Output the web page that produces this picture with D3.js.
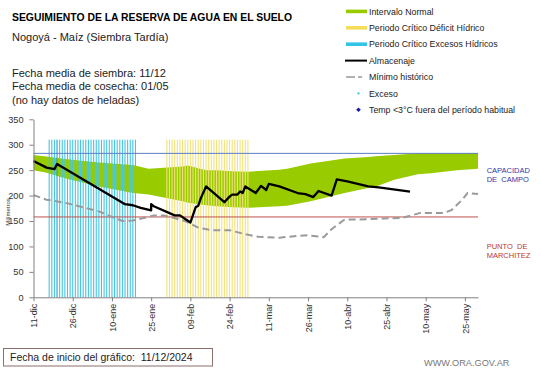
<!DOCTYPE html>
<html>
<head>
<meta charset="utf-8">
<script src="https://cdn.jsdelivr.net/npm/d3@7"></script>
<style>
  body { margin: 0; background: #fff; }
  svg { display: block; font-family: 'Liberation Sans', Arial, sans-serif; }
</style>
</head>
<body>
<div id="grafico"></div>
<script>
///////////////////////////////////////////////////////////////////////////
// Datos (dias contados desde la fecha de inicio del grafico)
///////////////////////////////////////////////////////////////////////////
const inicio = new Date(2024, 11, 11);
const diasEje = 170;

// Intervalo normal (banda verde)
const bandaDias = [0, 5, 12.7, 25.4, 38, 44.5, 57.1, 59.8, 66.1, 70, 76.2, 82.7, 94.1, 97.9, 106.6, 119.6, 128.4, 132.3, 138.8, 147.6, 152.5, 162.9, 170];
const bandaSup  = [280, 277, 272, 265, 260, 253, 257, 259, 250, 250, 248, 247, 251, 253, 263, 273, 276, 278, 280, 283, 283, 283, 283];
const bandaInf  = [250, 245, 234, 218, 205, 202, 189, 186, 181, 179, 177, 176, 179, 180, 189, 205, 215, 220, 231, 242, 244, 250, 253];

// Almacenaje
const almDias = [0, 5.5, 8.2, 9.9, 35.6, 38.1, 41.9, 45.1, 45.7, 46.4, 54.7, 56.6, 60.8, 62.3, 63.6, 64.8, 66.7, 73.8, 75.7, 76.9, 78.2, 79.1, 80.1, 81.4, 85.8, 87.7, 89.7, 90.9, 94.8, 101.8, 104.3, 107.9, 109.1, 114.7, 116.8, 120.8, 128.4, 132.3, 144];
const almMm   = [268, 255, 252, 262, 183, 181, 176, 171, 183, 179, 161, 161, 147, 177, 180, 195, 218, 187, 198, 202, 202, 208, 205, 218, 205, 219, 211, 223, 218, 205, 203, 197, 209, 200, 232, 228, 218, 216, 208];

// Minimo historico
const minDias = [0, 5.5, 12.7, 25.4, 30.5, 34.9, 38.1, 43.2, 46.4, 50.9, 58.5, 63.6, 68.7, 75, 81.4, 86.5, 94.1, 101.8, 105.6, 111.3, 114.5, 119.6, 124.7, 134.9, 141.2, 148.8, 157.8, 160.3, 164.1, 166.7, 170];
const minMm   = [201, 192, 186, 169, 158, 150, 151, 157, 161, 161, 150, 137, 132, 132, 124, 119, 117, 121, 122, 118, 134, 153, 153, 155, 156, 166, 166, 172, 192, 205, 203];

// Periodos criticos (barras diarias)
const periodoExcesos = [new Date(2024, 11, 17), new Date(2025, 0, 19)];
const periodoDeficit = [new Date(2025, 0, 31), new Date(2025, 2, 3)];
const diaExcesoMarcado = new Date(2024, 11, 20);
const alturaPeriodo = 310;

const capacidadCampo = 283;
const puntoMarchitez = 158;

const yTicks = [0, 50, 100, 150, 200, 250, 300, 350];
const pasoTicksX = 15;
const mesesCortos = ["ene", "feb", "mar", "abr", "may", "jun", "jul", "ago", "sep", "oct", "nov", "dic"];

const leyenda = [
  { texto: "Intervalo Normal", tipo: "barra", color: "#99cc00" },
  { texto: "Periodo Crítico Déficit Hídrico", tipo: "barra", color: "#f5dc5a" },
  { texto: "Periodo Crítico Excesos Hídricos", tipo: "barra", color: "#33c3e6" },
  { texto: "Almacenaje", tipo: "linea", color: "#000" },
  { texto: "Mínimo histórico", tipo: "guion", color: "#999" },
  { texto: "Exceso", tipo: "punto", color: "#33c3e6" },
  { texto: "Temp <3°C fuera del período habitual", tipo: "rombo", color: "#1a1aa0" }
];

///////////////////////////////////////////////////////////////////////////
// SVG
///////////////////////////////////////////////////////////////////////////
const width = 541, height = 368;
const svg = d3.select("#grafico").append("svg")
  .attr("width", width)
  .attr("height", height);

const fecha = d => d3.timeDay.offset(inicio, d);

const x = d3.scaleTime()
  .domain([inicio, fecha(diasEje)])
  .range([33.5, 478]);
const y = d3.scaleLinear()
  .domain([0, 350])
  .range([297.3, 119.3]);

// Banda verde
const banda = bandaDias.map((d, i) => ({ dia: d, sup: bandaSup[i], inf: bandaInf[i] }));
svg.append("path")
  .datum(banda)
  .attr("fill", "#99cc00")
  .attr("d", d3.area()
    .x(d => x(fecha(d.dia)))
    .y0(d => y(d.inf))
    .y1(d => y(d.sup)));

// Barras diarias de los periodos criticos
function barras(rango, color) {
  const dias = d3.timeDay.range(rango[0], d3.timeDay.offset(rango[1], 1));
  svg.append("g").selectAll("rect")
    .data(dias)
    .join("rect")
    .attr("x", d => x(d) - 0.55)
    .attr("width", 1.1)
    .attr("y", y(alturaPeriodo))
    .attr("height", y(0) - y(alturaPeriodo))
    .attr("fill", d => +d === +diaExcesoMarcado ? "#1fa3cf" : color);
}
barras(periodoExcesos, "#45c6e2");
barras(periodoDeficit, "#f3e27c");

// Lineas de referencia
svg.append("line")
  .attr("x1", x.range()[0]).attr("x2", x.range()[1])
  .attr("y1", y(capacidadCampo)).attr("y2", y(capacidadCampo))
  .attr("stroke", "#5b7ec6").attr("stroke-width", 1);
svg.append("line")
  .attr("x1", x.range()[0]).attr("x2", x.range()[1])
  .attr("y1", y(puntoMarchitez)).attr("y2", y(puntoMarchitez))
  .attr("stroke", "#c0504d").attr("stroke-width", 1);

// Minimo historico
svg.append("path")
  .datum(minDias.map((d, i) => [d, minMm[i]]))
  .attr("fill", "none")
  .attr("stroke", "#9a9a9a")
  .attr("stroke-width", 2)
  .attr("stroke-dasharray", "7,4")
  .attr("d", d3.line().x(d => x(fecha(d[0]))).y(d => y(d[1])));

// Almacenaje
svg.append("path")
  .datum(almDias.map((d, i) => [d, almMm[i]]))
  .attr("fill", "none")
  .attr("stroke", "#000")
  .attr("stroke-width", 2.3)
  .attr("stroke-linejoin", "round")
  .attr("d", d3.line().x(d => x(fecha(d[0]))).y(d => y(d[1])));

///////////////////////////////////////////////////////////////////////////
// Ejes
///////////////////////////////////////////////////////////////////////////
const es = d3.timeFormatLocale({
  dateTime: "%x, %X", date: "%d/%m/%Y", time: "%H:%M:%S", periods: ["AM", "PM"],
  days: ["domingo", "lunes", "martes", "miércoles", "jueves", "viernes", "sábado"],
  shortDays: ["dom", "lun", "mar", "mié", "jue", "vie", "sáb"],
  months: mesesCortos, shortMonths: mesesCortos
});
const fmt = es.format("%d-%b");
const xTicks = d3.range(0, diasEje, pasoTicksX).map(fecha);

const ejeY = svg.append("g")
  .attr("transform", `translate(${x.range()[0]},0)`)
  .call(d3.axisLeft(y).tickValues(yTicks).tickSize(4).tickSizeOuter(0).tickPadding(6));
ejeY.selectAll("text").attr("font-size", "9.2px").attr("fill", "#333").attr("font-family", null);
ejeY.selectAll("line, path").attr("stroke", "#808080");

const ejeX = svg.append("g")
  .attr("transform", `translate(0,${y(0)})`)
  .call(d3.axisBottom(x).tickValues(xTicks).tickFormat(fmt).tickSize(4).tickSizeOuter(0));
ejeX.selectAll("line, path").attr("stroke", "#808080");
ejeX.selectAll("text")
  .attr("transform", "rotate(-90)")
  .attr("x", -6.5)
  .attr("y", 0)
  .attr("dy", "0.35em")
  .attr("font-size", "9px")
  .attr("font-family", null)
  .attr("fill", "#333")
  .style("text-anchor", "end");

svg.append("text")
  .attr("transform", "translate(9.5,212) rotate(-90)")
  .attr("text-anchor", "middle")
  .attr("font-size", "6px")
  .attr("fill", "#333")
  .text("Milímetros");

// Etiquetas a la derecha
const etiquetasDer = [
  { lineas: ["CAPACIDAD", "DE  CAMPO"], y: 173.3, color: "#3434a8" },
  { lineas: ["PUNTO  DE", "MARCHITEZ"], y: 249.3, color: "#c0392b" }
];
etiquetasDer.forEach(e => {
  e.lineas.forEach((l, i) => {
    svg.append("text")
      .attr("x", 486.7)
      .attr("y", e.y + i * 8.4)
      .attr("font-size", "7.5px")
      .attr("fill", e.color)
      .style("white-space", "pre")
      .text(l);
  });
});

///////////////////////////////////////////////////////////////////////////
// Titulos
///////////////////////////////////////////////////////////////////////////
svg.append("text")
  .attr("x", 12).attr("y", 20.7)
  .attr("font-size", "10.4px").attr("font-weight", "bold").attr("fill", "#000")
  .text("SEGUIMIENTO DE LA RESERVA DE AGUA EN EL SUELO");

svg.append("text")
  .attr("x", 12).attr("y", 40.7)
  .attr("font-size", "11px").attr("fill", "#222")
  .text("Nogoyá - Maíz (Siembra Tardía)");

["Fecha media de siembra: 11/12", "Fecha media de cosecha: 01/05", "(no hay datos de heladas)"]
  .forEach((t, i) => {
    svg.append("text")
      .attr("x", 12).attr("y", 76.6 + i * 13.7)
      .attr("font-size", "11px").attr("fill", "#222")
      .text(t);
  });

///////////////////////////////////////////////////////////////////////////
// Leyenda
///////////////////////////////////////////////////////////////////////////
leyenda.forEach((l, i) => {
  const cy = 11.4 + i * 16.4;
  const g = svg.append("g");
  if (l.tipo === "barra") {
    g.append("rect").attr("x", 346).attr("y", cy - 1.8).attr("width", 21).attr("height", 3.6).attr("fill", l.color);
  } else if (l.tipo === "linea") {
    g.append("line").attr("x1", 345).attr("x2", 367).attr("y1", cy).attr("y2", cy)
      .attr("stroke", l.color).attr("stroke-width", 2);
  } else if (l.tipo === "guion") {
    g.append("line").attr("x1", 346).attr("x2", 362).attr("y1", cy).attr("y2", cy)
      .attr("stroke", l.color).attr("stroke-width", 1.6).attr("stroke-dasharray", "9,3");
  } else if (l.tipo === "punto") {
    g.append("rect").attr("x", 357.5).attr("y", cy - 1).attr("width", 2).attr("height", 2).attr("fill", l.color);
  } else if (l.tipo === "rombo") {
    g.append("path").attr("d", `M358.5,${cy - 2.3}L360.8,${cy}L358.5,${cy + 2.3}L356.2,${cy}Z`).attr("fill", l.color);
  }
  g.append("text")
    .attr("x", 369).attr("y", cy + 3.1)
    .attr("font-size", "8.8px").attr("fill", "#222")
    .text(l.texto);
});

///////////////////////////////////////////////////////////////////////////
// Pie
///////////////////////////////////////////////////////////////////////////
svg.append("rect")
  .attr("x", 3.5).attr("y", 348.5).attr("width", 209).attr("height", 17.5)
  .attr("fill", "none").attr("stroke", "#8c6e6e").attr("stroke-width", 1);
svg.append("text")
  .attr("x", 10).attr("y", 361.3)
  .attr("font-size", "10.5px").attr("fill", "#222")
  .style("white-space", "pre")
  .text("Fecha de inicio del gráfico:  11/12/2024");

svg.append("text")
  .attr("x", 424).attr("y", 366)
  .attr("font-size", "9.2px").attr("fill", "#777")
  .text("WWW.ORA.GOV.AR");
</script>
</body>
</html>
